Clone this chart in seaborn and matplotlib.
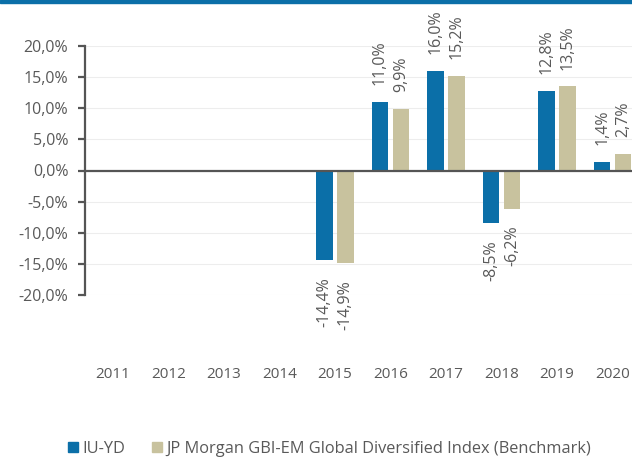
#!/usr/bin/env python3

import numpy as np
import matplotlib as mpl
from matplotlib import pyplot as plt
import seaborn as sns
import pandas as pd

sns.set_theme(style='white')
plt.rcParams['font.family'] = ['Open Sans', 'DejaVu Sans']

years = ['2011', '2012', '2013', '2014', '2015', '2016', '2017', '2018', '2019', '2020']
fund = [np.nan, np.nan, np.nan, np.nan, -14.4, 11.0, 16.0, -8.5, 12.8, 1.4]
bench = [np.nan, np.nan, np.nan, np.nan, -14.9, 9.9, 15.2, -6.2, 13.5, 2.7]
series = ['IU-YD', 'JP Morgan GBI-EM Global Diversified Index (Benchmark)']
colors = ['#0b6fa8', '#c8c29e']
grey = '#595959'

df = pd.DataFrame({'year': years * 2,
                   'value': fund + bench,
                   'series': [series[0]] * len(years) + [series[1]] * len(years)})

fig = plt.figure(figsize=(6.32, 4.59), dpi=100)
ax = fig.add_axes([85 / 632, 1 - 295 / 459, 1 - 85 / 632, 249 / 459])

g = sns.barplot(data=df, x='year', y='value', hue='series', order=years, hue_order=series,
                palette=colors, saturation=1, width=0.75, gap=0.2, errorbar=None,
                linewidth=0, ax=ax)

fmt = lambda v: f"{v:.1f}%".replace('.', ',')
for c in ax.containers:
    ax.bar_label(c, labels=[fmt(v) for v in c.datavalues], rotation=90, padding=12,
                 fontsize=11.5, color=grey)

ax.set_xlim(-0.5, 9.35)
ax.set_ylim(-20, 20)
ax.set_yticks(np.arange(-20, 21, 5))
ax.yaxis.set_major_formatter(mpl.ticker.FuncFormatter(lambda v, p: f"{v:.1f}%".replace('.', ',')))
ax.yaxis.grid(True, color='#ededed', lw=0.8)
ax.set_axisbelow(True)
ax.axhline(0, color='#555555', lw=1.6)

for s in ['top', 'right', 'bottom']:
    ax.spines[s].set_visible(False)
ax.spines['left'].set_color('#555555')
ax.spines['left'].set_linewidth(1.6)
ax.tick_params(axis='y', left=True, length=5, width=1.6, color='#555555', pad=7,
               labelsize=11.5, labelcolor=grey)
ax.tick_params(axis='x', bottom=False, pad=46, labelsize=11, labelcolor=grey)
ax.set_xlabel('')
ax.set_ylabel('')

ax.legend_.remove()
handles = [mpl.lines.Line2D([], [], marker='s', ls='', markersize=7, color=c) for c in colors]
fig.legend(handles, series, loc='center', bbox_to_anchor=(328 / 632, 1 - 449 / 459),
           ncol=2, frameon=False, fontsize=11.8, labelcolor=grey, handletextpad=0.1,
           columnspacing=1.4, handlelength=1.0)

fig.add_artist(mpl.patches.Rectangle((0, 1 - 3 / 459), 1, 3 / 459, color=colors[0],
                                     transform=fig.transFigure))

fig.savefig('out.png', dpi=100)
